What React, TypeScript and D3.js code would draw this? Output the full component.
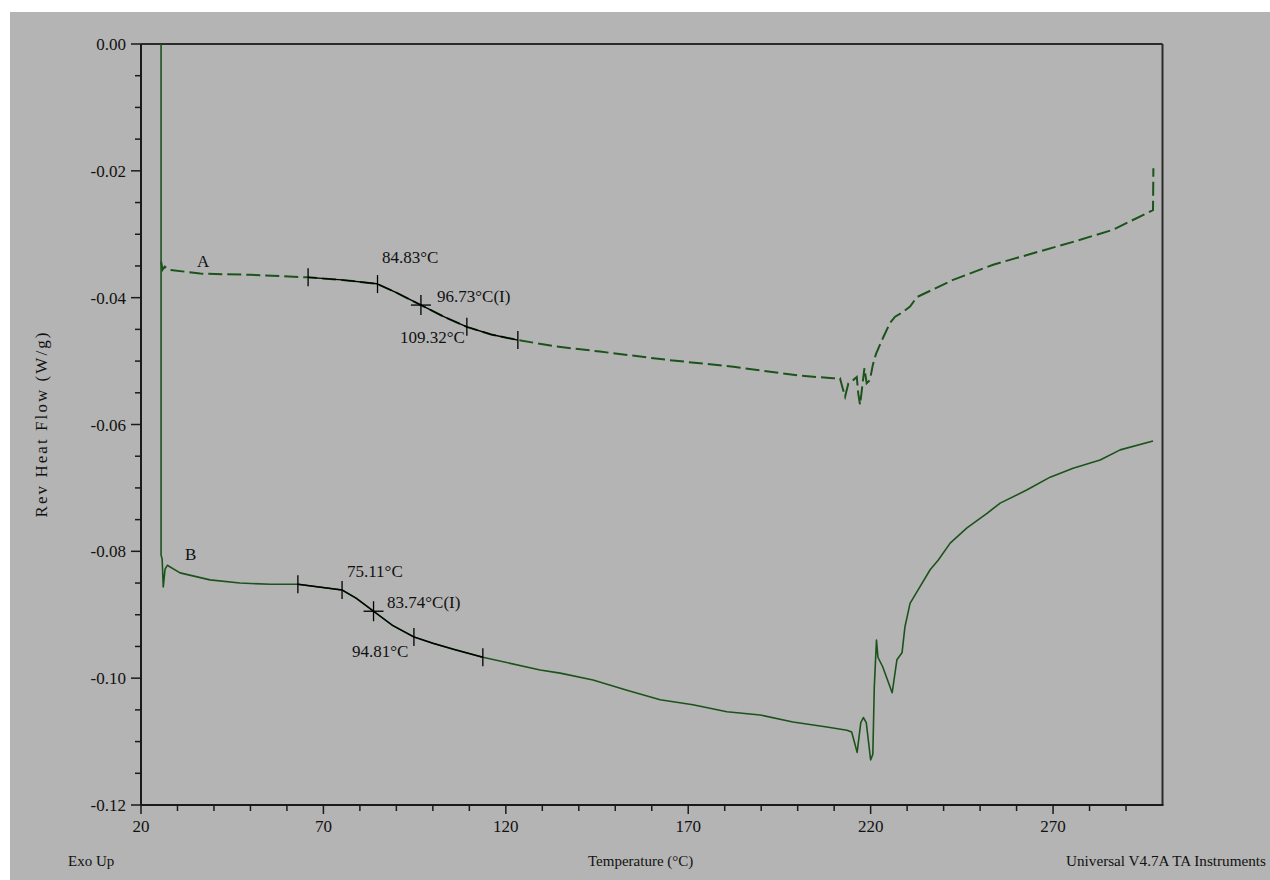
import React from "react";
import * as d3 from "d3";

// Curve A (dashed) : temperature (°C), rev heat flow (W/g)
const tempA = [25.5, 25.9, 26.5, 27.8, 36.2, 49.9, 65.8, 75, 84.6, 90, 96.5, 103, 109.3, 116, 123.4, 133.9, 145.8, 164.1, 182.4, 200.6, 209.7, 211.6, 212.2, 213.0, 213.9, 215.2, 216.2, 216.6, 217.1, 217.7, 218.3, 218.9, 219.8, 220.6, 221.5, 223.5, 225.3, 226.7, 229.0, 230.8, 232.7, 242.6, 253.6, 264.5, 275.5, 286.4, 297.4, 297.5];
const flowA = [-0.0343, -0.0356, -0.0351, -0.0356, -0.0362, -0.0364, -0.0368, -0.0372, -0.0378, -0.0392, -0.0411, -0.0430, -0.0446, -0.0458, -0.0467, -0.0477, -0.0485, -0.0498, -0.0509, -0.0523, -0.0527, -0.0527, -0.0540, -0.0556, -0.0535, -0.0530, -0.0525, -0.0551, -0.0569, -0.0540, -0.0511, -0.0535, -0.0530, -0.0506, -0.0488, -0.0462, -0.0440, -0.0430, -0.0422, -0.0414, -0.0399, -0.0372, -0.0348, -0.0330, -0.0312, -0.0293, -0.0262, -0.0196];

// Curve B (solid)
const tempB = [25.5, 25.5, 25.8, 26.1, 26.6, 27.2, 30.7, 38.9, 47.1, 55.4, 63.0, 75.1, 79.0, 84.1, 89.0, 94.8, 100, 106, 113.7, 129.4, 134.9, 143.9, 153.2, 162.3, 171.3, 180.6, 189.7, 198.7, 208.0, 213.5, 214.8, 216.3, 217.3, 218.0, 218.8, 220.0, 220.6, 221.0, 221.6, 222.0, 223.3, 225.9, 227.2, 228.6, 229.4, 230.8, 233.5, 236.3, 238.5, 241.8, 246.4, 251.9, 255.5, 262.9, 269.2, 275.5, 282.9, 288.4, 297.4];
const flowB = [0.002, -0.0806, -0.0812, -0.0856, -0.0828, -0.0822, -0.0834, -0.0845, -0.0850, -0.0852, -0.0852, -0.0861, -0.0874, -0.0896, -0.0917, -0.0935, -0.0945, -0.0955, -0.0967, -0.0987, -0.0992, -0.1003, -0.1019, -0.1034, -0.1042, -0.1053, -0.1058, -0.1069, -0.1077, -0.1082, -0.1085, -0.1117, -0.1070, -0.1062, -0.1070, -0.1129, -0.1120, -0.1014, -0.0940, -0.0967, -0.0982, -0.1023, -0.0971, -0.0960, -0.0919, -0.0882, -0.0856, -0.0829, -0.0814, -0.0787, -0.0763, -0.0740, -0.0724, -0.0703, -0.0683, -0.0669, -0.0656, -0.0640, -0.0626];

// Glass transition analysis markers
const markersA = [65.8, 84.83, 109.32, 123.3];
const inflectionA = 96.73;
const markersB = [63.0, 75.11, 94.81, 113.7];
const inflectionB = 83.74;

const annotA = ["84.83°C", "96.73°C(I)", "109.32°C"];
const annotB = ["75.11°C", "83.74°C(I)", "94.81°C"];

const xMajor = [20, 70, 120, 170, 220, 270];
const yMajor = [0, -0.02, -0.04, -0.06, -0.08, -0.1, -0.12];
const yLabels = ["0.00", "-0.02", "-0.04", "-0.06", "-0.08", "-0.10", "-0.12"];

const GREEN = "#1b531b";
const FONT = "'Liberation Serif', 'DejaVu Serif', serif";

function interp(ts: number[], vs: number[], t: number) {
  const i = d3.bisectLeft(ts, t, 2);
  if (i <= 0) return vs[0];
  if (i >= ts.length) return vs[vs.length - 1];
  const t0 = ts[i - 1], t1 = ts[i];
  const f = t1 === t0 ? 0 : (t - t0) / (t1 - t0);
  return vs[i - 1] + f * (vs[i] - vs[i - 1]);
}

export default function App() {
  const L = 141, R = 1162.5, T = 44, B = 805;
  const x = d3.scaleLinear().domain([20, 300]).range([L, R]);
  const y = d3.scaleLinear().domain([-0.12, 0]).range([B, T]);

  const ptsA = tempA.map((t, i) => [t, flowA[i]] as [number, number]);
  const ptsB = tempB.map((t, i) => [t, flowB[i]] as [number, number]);
  const line = d3.line<[number, number]>().x((d) => x(d[0])).y((d) => y(d[1]));

  const seg = (ts: number[], vs: number[], a: number, b: number) => {
    const out: [number, number][] = [[a, interp(ts, vs, a)]];
    ts.forEach((t, i) => {
      if (i >= 2 && t > a && t < b) out.push([t, vs[i]]);
    });
    out.push([b, interp(ts, vs, b)]);
    return out;
  };
  const blackA = seg(tempA, flowA, markersA[0], markersA[3]);
  const blackB = seg(tempB, flowB, markersB[0], markersB[3]);

  const xTicks = d3.range(20, 300, 10);
  const yTicks = d3.range(0, 25).map((k) => -k * 0.005);

  const tickMark = (ts: number[], vs: number[], t: number, key: string) => {
    const px = x(t), py = y(interp(ts, vs, t));
    return <line key={key} x1={px} x2={px} y1={py - 9} y2={py + 9} stroke="#000" strokeWidth={1.3} />;
  };
  const cross = (ts: number[], vs: number[], t: number, key: string) => {
    const px = x(t), py = y(interp(ts, vs, t));
    return (
      <g key={key} stroke="#000" strokeWidth={1.3}>
        <line x1={px} x2={px} y1={py - 10} y2={py + 10} />
        <line x1={px - 10} x2={px + 10} y1={py} y2={py} />
      </g>
    );
  };

  return (
    <svg width={1270} height={880} style={{ position: "absolute", left: 0, top: 0, display: "block" }} fontFamily={FONT}>
      <rect x={0} y={0} width={1270} height={880} fill="#ffffff" />
      <rect x={10} y={12} width={1260} height={868} fill="#b4b4b4" />
      <defs>
        <clipPath id="plot">
          <rect x={L} y={T} width={R - L} height={B - T} />
        </clipPath>
      </defs>

      {/* frame */}
      <line x1={L} x2={R} y1={T} y2={T} stroke="#2b2b2b" strokeWidth={2} />
      <line x1={R} x2={R} y1={T} y2={B} stroke="#2b2b2b" strokeWidth={2} />
      <line x1={L} x2={L} y1={T} y2={B + 1} stroke="#1a1a1a" strokeWidth={2} />
      <line x1={L - 1} x2={R + 1} y1={B} y2={B} stroke="#1a1a1a" strokeWidth={2} />

      {/* x ticks */}
      {xTicks.map((t) => {
        const major = (t - 20) % 50 === 0;
        return <line key={"xt" + t} x1={x(t)} x2={x(t)} y1={B} y2={B + (major ? 9 : 6)} stroke="#1a1a1a" strokeWidth={1.5} />;
      })}
      {xMajor.map((t) => (
        <text key={"xl" + t} x={x(t)} y={832} fontSize={17} textAnchor="middle" fill="#111">{t}</text>
      ))}

      {/* y ticks */}
      {yTicks.map((v, i) => {
        const major = i % 4 === 0;
        return <line key={"yt" + i} x1={L - (major ? 10 : 6)} x2={L} y1={y(v)} y2={y(v)} stroke="#1a1a1a" strokeWidth={1.5} />;
      })}
      {yMajor.map((v, i) => (
        <text key={"yl" + i} x={126} y={y(v) + 6} fontSize={17} textAnchor="end" fill="#111">{yLabels[i]}</text>
      ))}

      {/* curves */}
      <g clipPath="url(#plot)">
        <path d={line(ptsB) || ""} fill="none" stroke={GREEN} strokeWidth={1.6} strokeLinejoin="round" />
        <path d={line(ptsA) || ""} fill="none" stroke={GREEN} strokeWidth={2} strokeDasharray="14,5" />
        <path d={line(blackA) || ""} fill="none" stroke="#000" strokeWidth={1.4} />
        <path d={line(blackB) || ""} fill="none" stroke="#000" strokeWidth={1.4} />
        {markersA.map((t, i) => tickMark(tempA, flowA, t, "ma" + i))}
        {cross(tempA, flowA, inflectionA, "ca")}
        {markersB.map((t, i) => tickMark(tempB, flowB, t, "mb" + i))}
        {cross(tempB, flowB, inflectionB, "cb")}
      </g>

      {/* annotations */}
      <g fontSize={17} fill="#111">
        <text x={197} y={267}>A</text>
        <text x={185} y={560}>B</text>
        <text x={382} y={263}>{annotA[0]}</text>
        <text x={437} y={302}>{annotA[1]}</text>
        <text x={400} y={343}>{annotA[2]}</text>
        <text x={347} y={577}>{annotB[0]}</text>
        <text x={387} y={608}>{annotB[1]}</text>
        <text x={352} y={657}>{annotB[2]}</text>
      </g>

      {/* axis titles */}
      <text transform="translate(47,425) rotate(-90)" fontSize={17} textAnchor="middle" textLength={185} lengthAdjust="spacing" fill="#111">Rev Heat Flow (W/g)</text>
      <text x={588} y={866} fontSize={15} fill="#111">Temperature (°C)</text>
      <text x={68} y={866} fontSize={15} fill="#111">Exo Up</text>
      <text x={1066} y={866} fontSize={15} fill="#111" textLength={200} lengthAdjust="spacingAndGlyphs">Universal V4.7A TA Instruments</text>
    </svg>
  );
}
